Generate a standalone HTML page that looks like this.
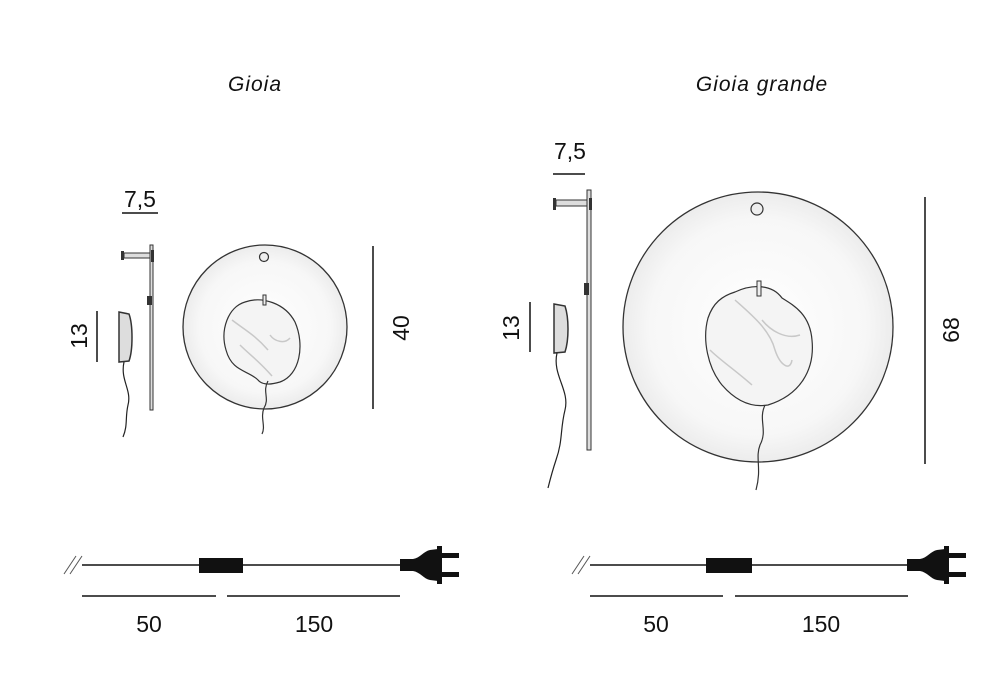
<!DOCTYPE html>
<html><head><style>
html,body{margin:0;padding:0;background:#fff;}
svg{display:block;}
text{font-family:"Liberation Sans",sans-serif;fill:#111;}
</style></head><body>
<svg width="1000" height="700" viewBox="0 0 1000 700" xmlns="http://www.w3.org/2000/svg">
<defs>
<radialGradient id="disc" cx="50%" cy="50%" r="50%">
<stop offset="0" stop-color="#ffffff"/><stop offset="0.8" stop-color="#f7f7f7"/><stop offset="1" stop-color="#ececec"/>
</radialGradient>
<g id="plug">
<rect x="0" y="-6" width="14" height="12"/>
<path d="M13,-6 C20,-7 24,-14 30,-15 L38,-16 L38,16 L30,15 C24,14 20,7 13,6 Z"/>
<rect x="37" y="-19" width="5" height="38"/>
<rect x="41" y="-12" width="18" height="5"/>
<rect x="41" y="7" width="18" height="5"/>
</g>
</defs>

<text x="255" y="91" font-size="21" font-style="italic" text-anchor="middle" letter-spacing="1">Gioia</text>
<text x="762" y="91" font-size="21" font-style="italic" text-anchor="middle" letter-spacing="1">Gioia grande</text>

<!-- Gioia -->
<text x="140" y="207" font-size="23" text-anchor="middle">7,5</text>
<line x1="122" y1="213" x2="158" y2="213" stroke="#111" stroke-width="1.5"/>
<rect x="150" y="245" width="3" height="165" fill="#ddd" stroke="#333" stroke-width="1"/>
<rect x="124" y="253" width="26" height="5" fill="#ddd" stroke="#333" stroke-width="1"/>
<rect x="121" y="251" width="3" height="9" fill="#333"/>
<rect x="151" y="250" width="3" height="12" fill="#333"/>
<rect x="147" y="296" width="5" height="9" fill="#333"/>
<path d="M119,312 L129,314 C133,325 133,350 129,361 L119,362 Z" fill="#ddd" stroke="#333" stroke-width="1.5"/>
<path d="M124,362 C120,380 132,390 128,405 C125,418 128,425 123,437" fill="none" stroke="#222" stroke-width="1.2"/>
<text transform="translate(87,336) rotate(-90)" font-size="23" text-anchor="middle">13</text>
<line x1="97" y1="311" x2="97" y2="362" stroke="#111" stroke-width="1.5"/>
<circle cx="265" cy="327" r="82" fill="url(#disc)" stroke="#333" stroke-width="1.3"/>
<circle cx="264" cy="257" r="4.5" fill="#eee" stroke="#333" stroke-width="1.2"/>
<path d="M245,302 C262,296 285,303 295,322 C305,345 300,375 280,382 C270,385 262,385 258,380 C248,370 232,372 226,350 C220,330 228,307 245,302 Z" fill="#f4f4f4" stroke="#333" stroke-width="1.2"/>
<path d="M232,320 C245,330 255,335 268,350 M240,345 C250,355 258,360 272,376 M270,335 C275,342 285,344 290,338" fill="none" stroke="#c8c8c8" stroke-width="1.5"/>
<rect x="263" y="295" width="3" height="10" fill="#eee" stroke="#333" stroke-width="1"/>
<path d="M268,381 C262,392 270,398 264,408 C260,418 266,426 262,434" fill="none" stroke="#333" stroke-width="1.2"/>
<text transform="translate(409,328) rotate(-90)" font-size="23" text-anchor="middle">40</text>
<line x1="373" y1="246" x2="373" y2="409" stroke="#111" stroke-width="1.5"/>

<!-- Gioia grande -->
<text x="570" y="159" font-size="23" text-anchor="middle">7,5</text>
<line x1="553" y1="174" x2="585" y2="174" stroke="#111" stroke-width="1.5"/>
<rect x="587" y="190" width="4" height="260" fill="#ddd" stroke="#333" stroke-width="1"/>
<rect x="556" y="200" width="31" height="6" fill="#ddd" stroke="#333" stroke-width="1"/>
<rect x="553" y="198" width="3" height="12" fill="#333"/>
<rect x="589" y="198" width="3" height="12" fill="#333"/>
<rect x="584" y="283" width="5" height="12" fill="#333"/>
<path d="M554,304 L565,306 C569,318 569,340 565,352 L554,353 Z" fill="#ddd" stroke="#333" stroke-width="1.5"/>
<path d="M557,353 C552,375 570,390 565,410 C560,430 563,440 556,460 C552,472 550,480 548,488" fill="none" stroke="#222" stroke-width="1.2"/>
<text transform="translate(519,328) rotate(-90)" font-size="23" text-anchor="middle">13</text>
<line x1="530" y1="302" x2="530" y2="352" stroke="#111" stroke-width="1.5"/>
<circle cx="758" cy="327" r="135" fill="url(#disc)" stroke="#333" stroke-width="1.3"/>
<circle cx="757" cy="209" r="6" fill="#eee" stroke="#333" stroke-width="1.2"/>
<path d="M735,292 C752,284 772,284 782,298 C795,306 810,315 812,340 C815,370 800,395 768,405 C750,408 735,400 722,385 C708,368 702,340 708,318 C713,303 722,296 735,292 Z" fill="#f4f4f4" stroke="#333" stroke-width="1.2"/>
<path d="M735,300 C752,315 770,330 775,350 C780,365 790,372 792,360 M710,350 C720,360 735,370 752,385 M762,320 C770,330 785,340 800,335" fill="none" stroke="#c8c8c8" stroke-width="1.5"/>
<rect x="757" y="281" width="4" height="15" fill="#eee" stroke="#333" stroke-width="1"/>
<path d="M765,405 C758,420 768,430 760,445 C755,458 762,468 756,490" fill="none" stroke="#333" stroke-width="1.2"/>
<text transform="translate(959,330) rotate(-90)" font-size="23" text-anchor="middle">68</text>
<line x1="925" y1="197" x2="925" y2="464" stroke="#111" stroke-width="1.5"/>

<!-- cords -->
<line x1="64" y1="574" x2="76" y2="556" stroke="#555" stroke-width="1"/>
<line x1="70" y1="574" x2="82" y2="556" stroke="#555" stroke-width="1"/>
<line x1="82" y1="565" x2="402" y2="565" stroke="#111" stroke-width="1.5"/>
<rect x="199" y="558" width="44" height="15" fill="#111"/>
<use href="#plug" transform="translate(400,565)" fill="#111"/>
<line x1="82" y1="596" x2="216" y2="596" stroke="#111" stroke-width="1.5"/>
<line x1="227" y1="596" x2="400" y2="596" stroke="#111" stroke-width="1.5"/>
<text x="149" y="632" font-size="23" text-anchor="middle">50</text>
<text x="314" y="632" font-size="23" text-anchor="middle">150</text>

<line x1="572" y1="574" x2="584" y2="556" stroke="#555" stroke-width="1"/>
<line x1="578" y1="574" x2="590" y2="556" stroke="#555" stroke-width="1"/>
<line x1="590" y1="565" x2="909" y2="565" stroke="#111" stroke-width="1.5"/>
<rect x="706" y="558" width="46" height="15" fill="#111"/>
<use href="#plug" transform="translate(907,565)" fill="#111"/>
<line x1="590" y1="596" x2="723" y2="596" stroke="#111" stroke-width="1.5"/>
<line x1="735" y1="596" x2="908" y2="596" stroke="#111" stroke-width="1.5"/>
<text x="656" y="632" font-size="23" text-anchor="middle">50</text>
<text x="821" y="632" font-size="23" text-anchor="middle">150</text>
</svg>
</body></html>
